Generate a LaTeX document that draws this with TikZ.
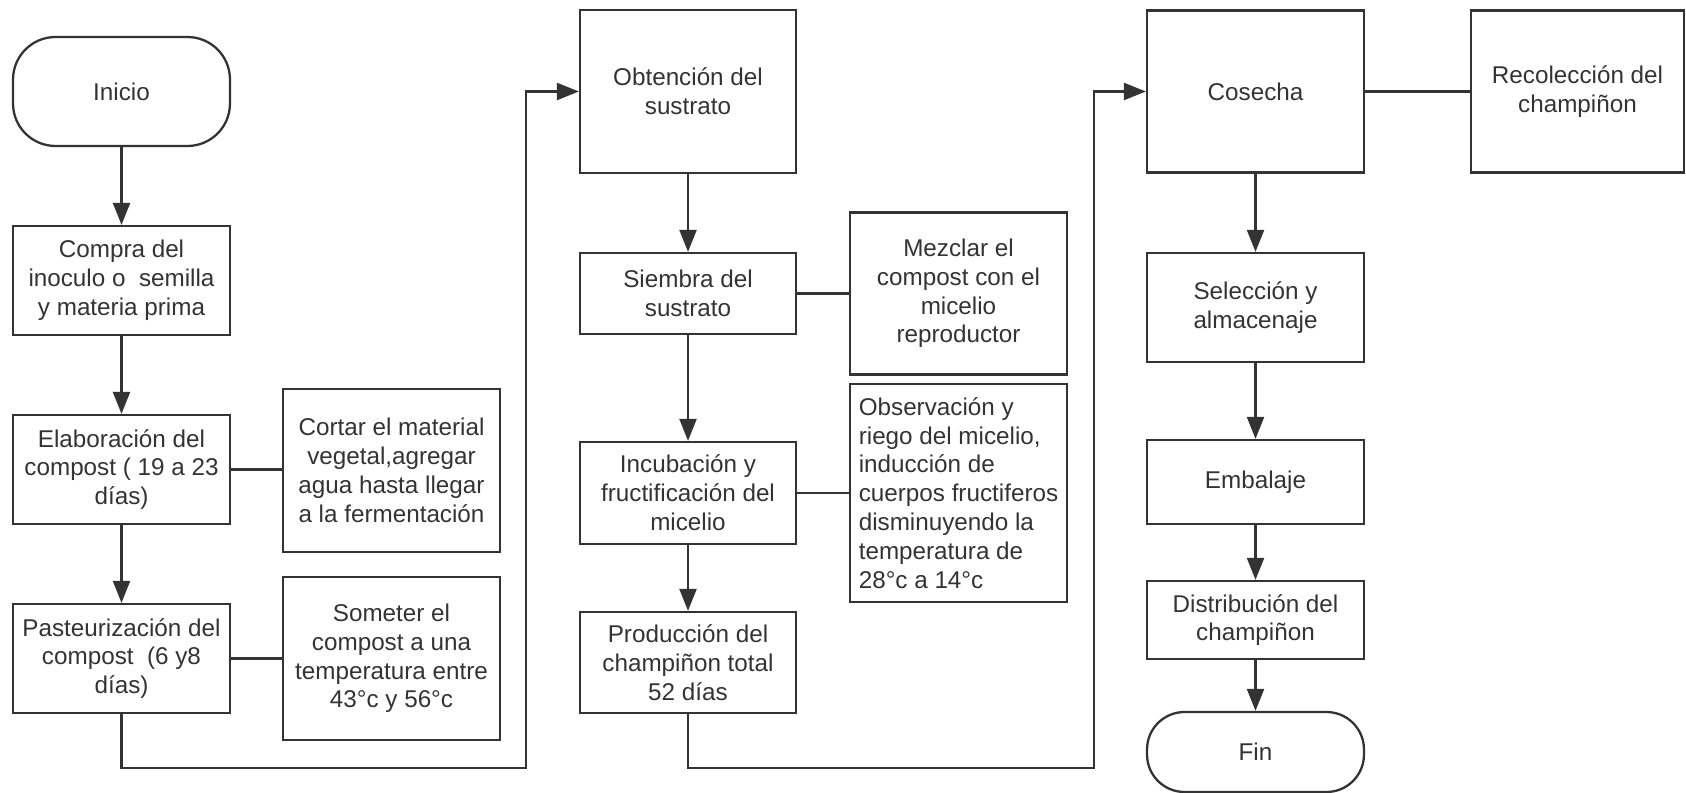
\documentclass[tikz,border=0pt]{standalone}
\usepackage{fontspec}
\setmainfont{Liberation Sans}
\usetikzlibrary{positioning,arrows.meta}

\definecolor{ink}{HTML}{333333}

\begin{document}
\begin{tikzpicture}[x=0.02cm,y=-0.02cm,
    box/.style={draw=ink, text=ink, line width=1.3pt, align=center, minimum width=4.34cm,
        inner sep=2pt, font=\fontsize{13.8}{16.4}\selectfont},
    term/.style={box, rounded corners=0.85cm},
    flow/.style={draw=ink, line width=1.3pt, -{Triangle[length=0.44cm,width=0.34cm]}},
    link/.style={draw=ink, line width=1.3pt}]

    % Page frame
    \useasboundingbox (0,0) rectangle (1686,793);

    % First column
    \node[term, minimum height=2.18cm] (inicio) at (121.5,91.5) {Inicio};
    \node[box, minimum height=2.18cm] (compra) at (121.5,280.5)
        {Compra del\\inoculo o\ \ semilla\\y materia prima};
    \node[box, minimum height=2.18cm] (elab) at (121.5,469.5)
        {Elaboración del\\compost ( 19 a 23\\días)};
    \node[box, minimum height=2.18cm] (paste) at (121.5,658.5)
        {Pasteurización del\\compost\ \ (6 y8\\días)};
    \node[box, minimum height=3.26cm] (cortar) at (391.5,470.5)
        {Cortar el material\\vegetal,agregar\\agua hasta llegar\\a la fermentación};
    \node[box, minimum height=3.26cm] (someter) at (391.5,658.5)
        {Someter el\\compost a una\\temperatura entre\\43°c y 56°c};

    % Second column
    \node[box, minimum width=4.32cm, minimum height=3.26cm] (obten) at (688,91.5)
        {Obtención del\\sustrato};
    \node[box, minimum width=4.32cm, minimum height=1.62cm] (siembra) at (688,293.5)
        {Siembra del\\sustrato};
    \node[box, minimum width=4.32cm, minimum height=2.04cm] (incub) at (688,493)
        {Incubación y\\fructificación del\\micelio};
    \node[box, minimum width=4.32cm, minimum height=2.02cm] (produc) at (688,662.5)
        {Producción del\\champiñon total\\52 días};
    \node[box, minimum height=3.24cm] (mezclar) at (958.5,293.5)
        {Mezclar el\\compost con el\\micelio\\reproductor};
    \node[box, minimum height=4.36cm, align=left] (observ) at (958.5,493)
        {Observación y\\riego del micelio,\\inducción de\\cuerpos fructiferos\\disminuyendo la\\temperatura de\\28°c a 14°c};

    % Third column
    \node[box, minimum height=3.24cm] (cosecha) at (1255.5,91.5) {Cosecha};
    \node[box, minimum width=4.26cm, minimum height=3.24cm] (recol) at (1577.5,91.5)
        {Recolección del\\champiñon};
    \node[box, minimum height=2.18cm] (selec) at (1255.5,307.5) {Selección y\\almacenaje};
    \node[box, minimum height=1.68cm] (embal) at (1255.5,482) {Embalaje};
    \node[box, minimum height=1.56cm] (distr) at (1255.5,620) {Distribución del\\champiñon};
    \node[term, minimum height=1.6cm, rounded corners=0.75cm] (fin) at (1255.5,752) {Fin};

    % Bends of the long connectors
    \coordinate (c1) at (121.5,768);
    \coordinate (c2) at (526,768);
    \coordinate (c3) at (688,768);
    \coordinate (c4) at (1094,768);

    % Arrows
    \draw[flow] (inicio) -- (compra);
    \draw[flow] (compra) -- (elab);
    \draw[flow] (elab) -- (paste);
    \draw[flow] (obten) -- (siembra);
    \draw[flow] (siembra) -- (incub);
    \draw[flow] (incub) -- (produc);
    \draw[flow] (cosecha) -- (selec);
    \draw[flow] (selec) -- (embal);
    \draw[flow] (embal) -- (distr);
    \draw[flow] (distr) -- (fin);
    \draw[flow] (paste.south) -- (c1) -- (c2) |- (obten.west);
    \draw[flow] (produc.south) -- (c3) -- (c4) |- (cosecha.west);

    % Side lines
    \draw[link] (elab) -- (cortar.west |- elab);
    \draw[link] (paste) -- (someter);
    \draw[link] (siembra) -- (mezclar);
    \draw[link] (incub) -- (observ);
    \draw[link] (cosecha) -- (recol);
\end{tikzpicture}
\end{document}
